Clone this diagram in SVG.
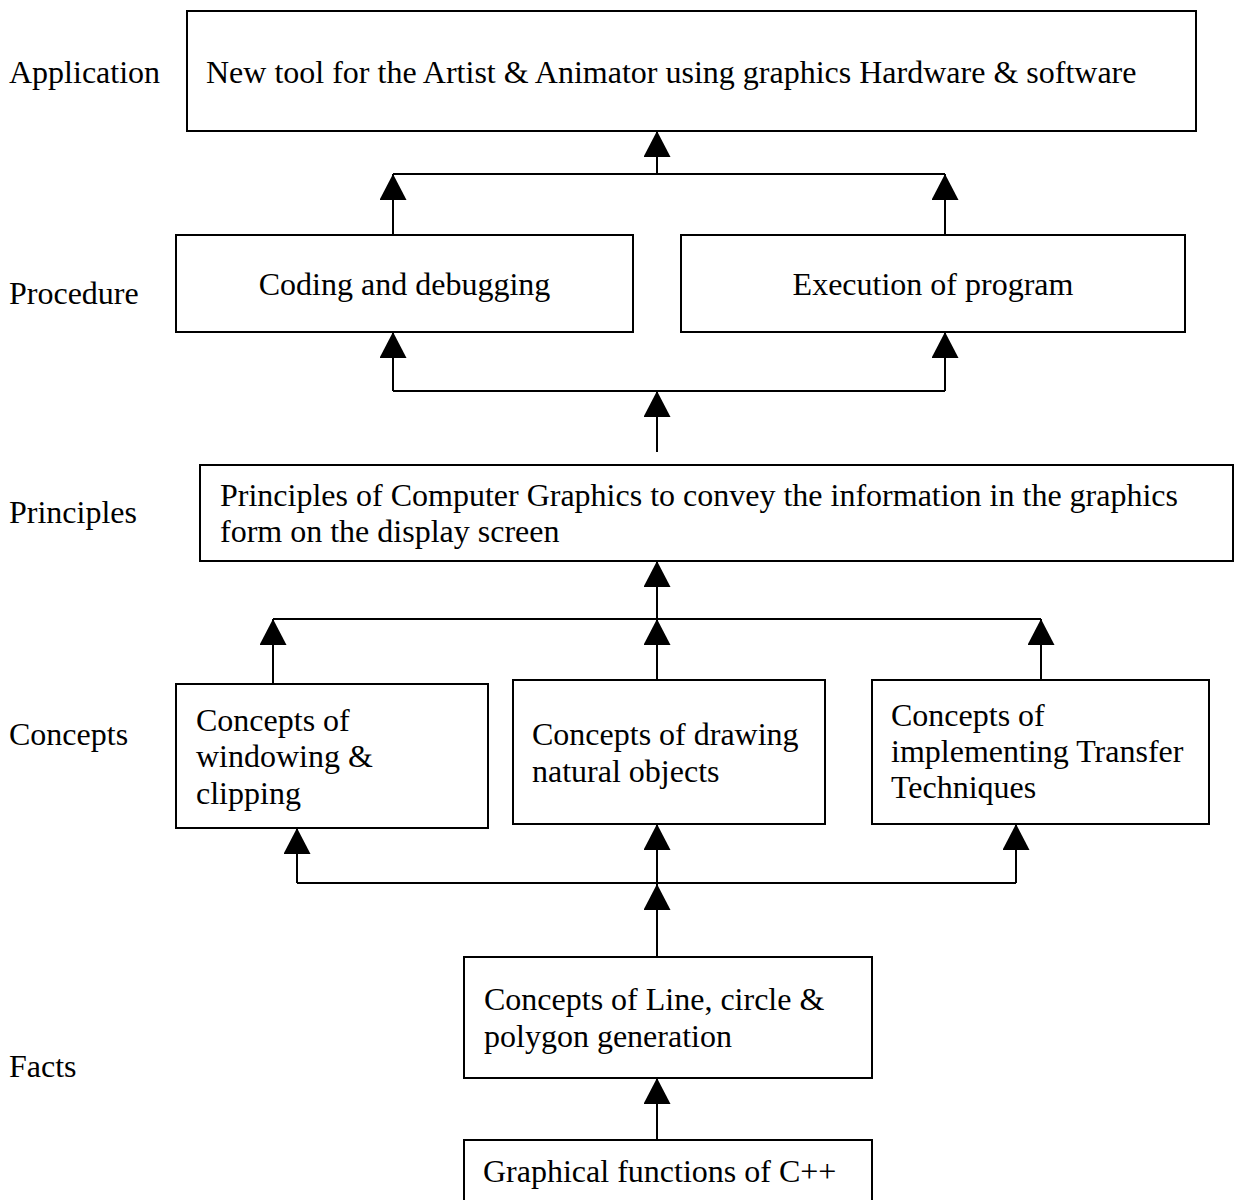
<svg xmlns="http://www.w3.org/2000/svg" width="1234" height="1200" viewBox="0 0 1234 1200">
<style>
text { font-family: "Liberation Serif", "Times New Roman", serif; font-size: 32px; fill: #000; }
.box { fill: #fff; stroke: #000; stroke-width: 2; }
.con { fill: none; stroke: #000; stroke-width: 2; }
.mid { text-anchor: middle; }
</style>
<defs>
<marker id="ah" markerUnits="userSpaceOnUse" markerWidth="27" markerHeight="27" refX="26" refY="13.5" orient="auto" viewBox="0 0 27 27">
<path d="M0,0 L26,13.5 L0,27 z" fill="#000"/>
</marker>
</defs>
<rect width="1234" height="1200" fill="#fff"/>
<g id="labels">
<text x="9" y="83">Application</text>
<text x="9" y="304">Procedure</text>
<text x="9" y="523">Principles</text>
<text x="9" y="745">Concepts</text>
<text x="9" y="1077">Facts</text>
</g>
<g id="connectors">
<path class="con" d="M393,174 L945,174"/>
<path class="con" d="M393,235 L393,174" marker-end="url(#ah)"/>
<path class="con" d="M945,235 L945,174" marker-end="url(#ah)"/>
<path class="con" d="M657,174 L657,131" marker-end="url(#ah)"/>
<path class="con" d="M393,391 L945,391"/>
<path class="con" d="M393,391 L393,332" marker-end="url(#ah)"/>
<path class="con" d="M945,391 L945,332" marker-end="url(#ah)"/>
<path class="con" d="M657,452 L657,391" marker-end="url(#ah)"/>
<path class="con" d="M273,619 L1041,619"/>
<path class="con" d="M657,619 L657,561" marker-end="url(#ah)"/>
<path class="con" d="M273,684 L273,619" marker-end="url(#ah)"/>
<path class="con" d="M657,680 L657,619" marker-end="url(#ah)"/>
<path class="con" d="M1041,680 L1041,619" marker-end="url(#ah)"/>
<path class="con" d="M297,883 L1016,883"/>
<path class="con" d="M297,883 L297,828" marker-end="url(#ah)"/>
<path class="con" d="M657,883 L657,824" marker-end="url(#ah)"/>
<path class="con" d="M1016,883 L1016,824" marker-end="url(#ah)"/>
<path class="con" d="M657,957 L657,884" marker-end="url(#ah)"/>
<path class="con" d="M657,1140 L657,1078" marker-end="url(#ah)"/>
</g>
<g id="application">
<rect class="box" x="187" y="11" width="1009" height="120"/>
<text x="206" y="83">New tool for the Artist &amp; Animator using graphics Hardware &amp; software</text>
</g>
<g id="coding">
<rect class="box" x="176" y="235" width="457" height="97"/>
<text class="mid" x="404.5" y="295">Coding and debugging</text>
</g>
<g id="execution">
<rect class="box" x="681" y="235" width="504" height="97"/>
<text class="mid" x="933" y="295">Execution of program</text>
</g>
<g id="principles">
<rect class="box" x="200" y="465" width="1033" height="96"/>
<text x="220" y="506">Principles of Computer Graphics to convey the information in the graphics</text>
<text x="220" y="542">form on the display screen</text>
</g>
<g id="windowing">
<rect class="box" x="176" y="684" width="312" height="144"/>
<text x="196" y="731">Concepts of</text>
<text x="196" y="767">windowing &amp;</text>
<text x="196" y="804">clipping</text>
</g>
<g id="drawing">
<rect class="box" x="513" y="680" width="312" height="144"/>
<text x="532" y="745">Concepts of drawing</text>
<text x="532" y="782">natural objects</text>
</g>
<g id="transfer">
<rect class="box" x="872" y="680" width="337" height="144"/>
<text x="891" y="726">Concepts of</text>
<text x="891" y="762">implementing Transfer</text>
<text x="891" y="798">Techniques</text>
</g>
<g id="line-circle">
<rect class="box" x="464" y="957" width="408" height="121"/>
<text x="484" y="1010">Concepts of Line, circle &amp;</text>
<text x="484" y="1047">polygon generation</text>
</g>
<g id="cpp">
<rect class="box" x="464" y="1140" width="408" height="80"/>
<text x="483" y="1182">Graphical functions of C++</text>
</g>
</svg>
